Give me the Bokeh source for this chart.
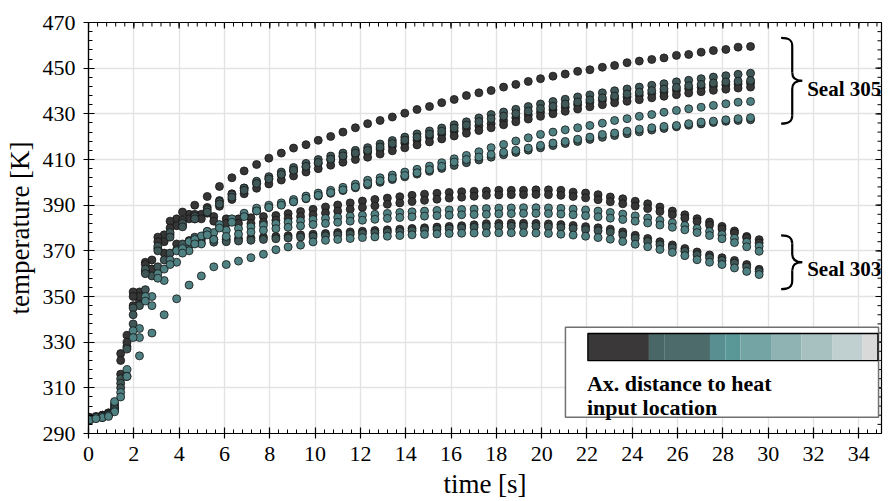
from bokeh.plotting import figure
from bokeh.models import FixedTicker, Range1d
from bokeh.core.properties import value
from bokeh.embed import file_html
from bokeh.resources import INLINE

# ---------------- data ----------------
# sampling instants of the two seals [s]
t305 = [0.33, 0.88, 1.42, 1.97, 2.51, 3.06, 3.60, 4.15, 4.69, 5.24, 5.78, 6.33, 6.87, 7.42,
        7.96, 8.51, 9.05, 9.60, 10.14, 10.69, 11.23, 11.78, 12.32, 12.87, 13.41, 13.96, 14.50,
        15.05, 15.59, 16.14, 16.68, 17.23, 17.77, 18.32, 18.86, 19.41, 19.95, 20.50, 21.04,
        21.59, 22.13, 22.68, 23.22, 23.77, 24.31, 24.86, 25.40, 25.95, 26.49, 27.04, 27.58,
        28.13, 28.67, 29.22]
t303 = [0.06, 0.61, 1.15, 1.70, 2.25, 2.80, 3.34, 3.89, 4.44, 4.98, 5.53, 6.08, 6.62, 7.17,
        7.72, 8.27, 8.81, 9.36, 9.91, 10.46, 11.00, 11.55, 12.09, 12.64, 13.19, 13.74, 14.28,
        14.83, 15.38, 15.92, 16.47, 17.02, 17.56, 18.11, 18.66, 19.20, 19.75, 20.30, 20.85,
        21.39, 21.94, 22.49, 23.03, 23.58, 24.13, 24.68, 25.22, 25.77, 26.32, 26.86, 27.41,
        27.96, 28.51, 29.05, 29.60]

# Seal 305 thermocouples [K]
s305_a = [297, 299, 325, 352, 365, 376, 383, 387, 390, 393.8, 398.2, 402, 405, 407.8, 410.6,
          412.8, 415, 416.5, 418.4, 420.1, 422, 423.9, 425.7, 427.1, 428.6, 430.3, 431.9, 433.2,
          434.9, 436.3, 438, 439.2, 440.2, 441.7, 442.9, 444.2, 445.4, 446.5, 447.4, 448.6,
          449.3, 450.4, 451.2, 452.4, 453.1, 453.8, 454.5, 455.6, 456, 457, 457.7, 458.2, 459.2,
          459.5]
s305_b = [297, 298.5, 314, 345, 362, 372, 378, 382, 385, 388, 391.5, 394.5, 397.5, 400.5,
          402.5, 404.5, 406.5, 408.3, 410, 411.5, 412.8, 414, 415.2, 416.8, 418.3, 419.8, 421.2,
          422.5, 423.8, 425.2, 426.5, 428.2, 429.7, 430.8, 432, 433.2, 434.3, 435.4, 436.4,
          437.4, 438.3, 439.2, 440.1, 440.9, 441.7, 442.5, 443.2, 444, 444.7, 445.4, 446.1,
          446.7, 447.3, 447.8]
s305_c = [297, 298, 312, 342, 360, 370, 376, 380.5, 384, 387, 390.5, 393.5, 396.5, 399.5,
          401.5, 403.5, 405.3, 407, 408.7, 410.2, 411.6, 412.8, 414, 415.5, 417, 418.5, 419.8,
          421.1, 422.4, 423.8, 425.1, 426.6, 427.9, 429, 430.1, 431.2, 432.3, 433.3, 434.3,
          435.2, 436.1, 437, 437.8, 438.7, 439.5, 440.2, 440.9, 441.6, 442.3, 442.9, 443.5, 444,
          444.3, 444.6]
s305_d = [297.5, 299, 322, 350, 364, 374, 380, 383.5, 386, 389, 392, 395, 397.5, 399.5, 401.5,
          403.3, 405, 406.7, 408.3, 409.8, 411.2, 412.2, 413.2, 414.5, 415.8, 417.2, 418.5,
          419.8, 421.1, 422.4, 423.6, 424.7, 425.7, 427, 428.3, 429.5, 430.7, 431.8, 432.9, 434,
          435, 435.9, 436.7, 437.4, 438.1, 438.9, 439.6, 440.3, 441, 441.6, 442.2, 442.7, 443.1,
          443.5]
s305_e = [297, 298.5, 316, 346, 361, 371, 377, 381, 384, 386.5, 389.5, 392.5, 395, 397.4,
          399.3, 401, 402.8, 404.5, 406, 407.5, 408.8, 410, 411, 412.4, 413.8, 415.1, 416.4,
          417.7, 419, 420.3, 421.5, 422.7, 423.9, 425.2, 426.5, 427.7, 428.9, 430, 431.1, 432.1,
          433.1, 434, 434.8, 435.5, 436.2, 437, 437.7, 438.4, 439.1, 439.7, 440.3, 440.8, 441.3,
          441.7]
s305_f = [297, 298, 308, 335, 350, 360, 366, 371, 375, 378.5, 381.5, 384, 386.5, 388.7, 390,
          391, 392.5, 394, 395.3, 396.5, 397.8, 399.2, 400.9, 402, 403.2, 404.5, 405.7, 407.1,
          408.6, 410.3, 411.8, 413.4, 415.2, 416.6, 418.1, 419.5, 421, 422, 423, 423.9, 424.9,
          425.9, 427.1, 427.9, 428.9, 429.7, 430.7, 431.5, 432.2, 432.9, 433.7, 434.4, 435.1,
          435.4]
s305_g = [296.5, 297.5, 306, 332, 348, 358, 364, 369, 373, 377, 380, 382.5, 385, 387.5, 389,
          390, 391.5, 393, 394.3, 395.5, 396.7, 398, 399.5, 400.7, 401.9, 403, 404.2, 405.5, 407,
          408.9, 410, 411.1, 412.2, 413.2, 414, 415, 416.2, 417.2, 417.9, 418.9, 419.8, 421,
          421.6, 422.4, 423.3, 423.9, 424.5, 424.9, 425.7, 426.4, 426.8, 427.4, 427.9, 428.3]
s305_h = [297, 298, 310, 338, 353, 363, 369, 373, 376, 378.5, 381, 383.5, 385.5, 387.5, 389,
          390.2, 391.5, 392.8, 394, 395.2, 396.4, 397.6, 398.8, 400, 401.2, 402.4, 403.6, 404.8,
          406.1, 407.4, 408.6, 409.8, 411, 412.1, 413.1, 414.1, 415.1, 416.1, 417, 417.9, 418.8,
          419.7, 420.5, 421.3, 422.1, 422.9, 423.6, 424.3, 425, 425.6, 426.2, 426.7, 427.1,
          427.4]

# Seal 303 thermocouples [K]
s303_a = [297, 298, 303, 333, 352, 366, 377, 384, 386, 386, 385, 384, 384, 384.5, 385, 385.5,
          386.3, 387.2, 388.2, 389.2, 390.1, 391, 391.8, 392.5, 393.1, 393.7, 394.3, 394.8,
          395.2, 395.6, 395.9, 396.1, 396.2, 396.5, 396.5, 396.5, 396.7, 396.7, 396.5, 395.7,
          395.3, 394.6, 393.6, 392.8, 391.7, 390.6, 389.2, 387.4, 385.8, 384.1, 382.6, 380.7,
          378.7, 376.3, 374.9]
s303_b = [296.5, 297.5, 301, 328, 348, 362, 374, 381, 384, 384, 383, 382, 382, 382, 382.5,
          383.4, 384.2, 385, 385.8, 386.6, 387.4, 388.2, 389, 389.7, 390.4, 391, 391.6, 392.1,
          392.6, 393.1, 393.5, 393.9, 394.3, 394.5, 394.6, 394.6, 394.7, 394.6, 394.3, 393.8,
          393.2, 392.4, 391.5, 390.6, 389.6, 388.5, 387.2, 385.8, 384.3, 382.8, 381.3, 379.6,
          377.8, 375.7, 373.5]
s303_c = [296, 297, 300, 318, 336, 350, 362, 370, 374, 376.5, 378, 379, 379.8, 380.5, 381.2,
          381.9, 382.5, 383.1, 383.7, 384.2, 384.7, 385.2, 385.6, 386, 386.4, 386.8, 387.1,
          387.4, 387.7, 387.9, 388.1, 388.3, 388.5, 388.7, 388.8, 388.9, 388.9, 388.8, 388.6,
          388.3, 387.9, 387.4, 386.8, 386.1, 385.3, 384.4, 383.4, 382.3, 381.1, 379.8, 378.5,
          377.1, 375.5, 373.8, 372]
s303_d = [296, 297, 299.5, 315, 332, 346, 357, 365, 370, 373, 375, 376.3, 377.3, 378.2, 379,
          379.7, 380.3, 380.9, 381.5, 382, 382.5, 383, 383.4, 383.8, 384.2, 384.6, 384.9, 385.2,
          385.4, 385.6, 385.8, 385.9, 386, 386.2, 386.3, 386.4, 386.4, 386.3, 386.1, 385.8,
          385.4, 384.9, 384.3, 383.7, 383, 382.2, 381.3, 380.3, 379.2, 378, 376.7, 375.3, 373.6,
          371.8, 369.8]
s303_e = [297, 298, 302, 330, 350, 362, 369, 373, 374.5, 375, 375, 375, 375.3, 375.6, 376,
          376.3, 376.6, 377, 377.3, 377.6, 378, 378.3, 378.6, 378.9, 379.2, 379.5, 379.8, 380.1,
          380.4, 380.7, 381, 381.4, 381.9, 382, 382.1, 382.1, 382, 381.8, 381.5, 381.1, 380.6,
          380.1, 379.5, 378.3, 376.8, 375.4, 374, 372.6, 371, 369.5, 368.2, 367, 365.8, 364,
          361.9]
s303_f = [296.5, 297.5, 301, 327, 346, 359, 366, 370.5, 372.5, 373.5, 373.8, 374, 374.3, 374.6,
          375, 375.3, 375.6, 376, 376.3, 376.6, 377, 377.3, 377.6, 377.9, 378.2, 378.5, 378.8,
          379.1, 379.4, 379.7, 380, 380.3, 380.6, 380.7, 380.8, 380.8, 380.7, 380.5, 380.2,
          379.8, 379.3, 378.8, 378.2, 377, 375.5, 374.1, 372.7, 371.3, 369.8, 368.3, 367, 365.8,
          364.6, 362.9, 360.9]
s303_g = [296, 297, 304, 315, 324, 334, 342, 349, 355, 359, 363, 364, 365.5, 367, 368.5, 370.5,
          371.7, 372.5, 373.9, 374.6, 375, 375.4, 375.8, 376.1, 376.4, 376.7, 377, 377.2, 377.4,
          377.6, 377.7, 377.8, 377.8, 377.9, 377.9, 377.9, 377.8, 377.6, 377.3, 376.9, 376.4,
          375.8, 375.1, 374.1, 372.9, 371.8, 370.6, 369.3, 367.9, 366.1, 365, 364, 362.5, 361,
          359.6]

# colour class of each sensor (index into point_colors)
series_305 = [s305_a, s305_b, s305_c, s305_d, s305_e, s305_f, s305_g, s305_h]
class_305 = [0, 1, 1, 0, 0, 2, 2, 1]
series_303 = [s303_a, s303_b, s303_c, s303_d, s303_e, s303_f, s303_g]
class_303 = [0, 0, 2, 2, 0, 1, 2]

# colour bar: palette and relative widths of its bins
bar_colors = ["#3a3838", "#4a6767", "#4d6b6b", "#5a8f91", "#5a9898", "#75a4a4", "#8fb3b3",
              "#a7c1c1", "#c0d0d0", "#d9d9d9"]
bar_widths = [4, 1, 3, 1, 1, 2, 2, 2, 2, 1]
point_colors = ["#363636", "#3f5757", "#4f8082"]

x_ticks = [0, 2, 4, 6, 8, 10, 12, 14, 16, 18, 20, 22, 24, 26, 28, 30, 32, 34]
y_ticks = [290, 310, 330, 350, 370, 390, 410, 430, 450, 470]

# ---------------- figure ----------------
FONT = "Liberation Serif"
XMIN, XMAX, YMIN, YMAX = 0, 35, 290, 470
p = figure(frame_width=793, frame_height=411, output_backend="svg", toolbar_location=None,
           x_range=Range1d(XMIN, XMAX), y_range=Range1d(YMIN, YMAX),
           min_border_left=88, min_border_right=10, min_border_top=22, min_border_bottom=62)
p.background_fill_color = "white"
p.border_fill_color = "white"
p.outline_line_color = "black"
p.outline_line_width = 1.2

x_minor = [i * 0.4 for i in range(0, 88)]
y_minor = [290 + i * 4 for i in range(0, 46)]
xt = FixedTicker(ticks=x_ticks, minor_ticks=x_minor)
yt = FixedTicker(ticks=y_ticks, minor_ticks=y_minor)

p.xaxis.ticker = xt
p.yaxis.ticker = yt
p.xgrid.ticker = xt
p.ygrid.ticker = yt
for g in (p.xgrid, p.ygrid):
    g.grid_line_color = "#e3e3e3"
    g.grid_line_width = 1.4

for ax in (p.xaxis, p.yaxis):
    ax.axis_line_color = "black"
    ax.axis_line_width = 1.2
    ax.major_tick_in = 6
    ax.major_tick_out = 5
    ax.minor_tick_in = 4
    ax.minor_tick_out = 0
    ax.major_tick_line_width = 1.2
    ax.minor_tick_line_width = 1
    ax.major_label_text_font = FONT
    ax.major_label_text_font_size = "22px"
    ax.major_label_text_color = "black"
    ax.axis_label_text_font = FONT
    ax.axis_label_text_font_size = "27px"
    ax.axis_label_text_font_style = "normal"
    ax.axis_label_text_color = "black"
p.xaxis.axis_label = "time [s]"
p.yaxis.axis_label = "temperature [K]"
p.xaxis.major_label_standoff = 8
p.yaxis.major_label_standoff = 8
p.xaxis.axis_label_standoff = 5
p.yaxis.axis_label_standoff = 5

# mirrored ticks on the top and right frame edges (6 px major, 4 px minor)
kx = (XMAX - XMIN) / 793.0
ky = (YMAX - YMIN) / 411.0
tick_kw = dict(line_color="black")
p.segment(x0=x_ticks, y0=[YMAX] * len(x_ticks), x1=x_ticks,
          y1=[YMAX - 6 * ky] * len(x_ticks), line_width=1.2, **tick_kw)
p.segment(x0=x_minor, y0=[YMAX] * len(x_minor), x1=x_minor,
          y1=[YMAX - 4 * ky] * len(x_minor), line_width=1, **tick_kw)
p.segment(x0=[XMAX] * len(y_ticks), y0=y_ticks, x1=[XMAX - 6 * kx] * len(y_ticks),
          y1=y_ticks, line_width=1.2, **tick_kw)
p.segment(x0=[XMAX] * len(y_minor), y0=y_minor, x1=[XMAX - 4 * kx] * len(y_minor),
          y1=y_minor, line_width=1, **tick_kw)

# ---------------- points ----------------
for cls in (0, 1, 2):
    for ys, c in zip(series_303, class_303):
        if c == cls:
            p.scatter(t303, ys, marker="circle", size=8, fill_color=point_colors[c],
                      line_color="#151515", line_width=0.8)
    for ys, c in zip(series_305, class_305):
        if c == cls:
            p.scatter(t305, ys, marker="circle", size=8, fill_color=point_colors[c],
                      line_color="#151515", line_width=0.8)

# ---------------- braces + labels ----------------
def brace(xl, xs, xtip, ytop, ybot, r):
    ym = (ytop + ybot) / 2
    kw = dict(line_color="black", line_width=2.2)
    p.bezier(x0=[xl, xs, xl, xs], y0=[ytop, ym + r, ybot, ym - r],
             x1=[xs, xtip, xs, xtip], y1=[ytop - r, ym, ybot + r, ym],
             cx0=[xl + 0.75 * (xs - xl), xs, xl + 0.75 * (xs - xl), xs],
             cy0=[ytop, ym + 0.25 * r, ybot, ym - 0.25 * r],
             cx1=[xs, xs + 0.35 * (xtip - xs), xs, xs + 0.35 * (xtip - xs)],
             cy1=[ytop - 0.3 * r, ym, ybot + 0.3 * r, ym], **kw)
    p.segment(x0=[xs, xs], y0=[ytop - r, ym - r], x1=[xs, xs], y1=[ym + r, ybot + r], **kw)

brace(30.57, 31.06, 31.50, 463.3, 425.7, 3.6)
brace(30.57, 31.06, 31.50, 376.8, 353.2, 3.6)
p.text(x=[31.72, 31.72], y=[441.0, 362.2], text=["Seal 305", "Seal 303"],
       text_font=value(FONT), text_font_style="bold", text_font_size="21px",
       text_baseline="alphabetic", text_align="left", text_color="black")

# ---------------- colour-bar legend ----------------
p.quad(left=[21.05], right=[34.87], top=[336.5], bottom=[297.1], fill_color="white",
       line_color="#707070", line_width=1.5)
x0, x1 = 22.04, 34.84
tot = sum(bar_widths)
lefts, rights = [], []
acc = 0
for w in bar_widths:
    lefts.append(x0 + (x1 - x0) * acc / tot)
    acc += w
    rights.append(x0 + (x1 - x0) * acc / tot)
p.quad(left=lefts, right=rights, top=333.8, bottom=321.9, fill_color=bar_colors,
       line_color=None)
p.quad(left=[x0], right=[x1], top=[333.8], bottom=[321.9], fill_color=None,
       line_color="black", line_width=1.3)
p.text(x=[22.0, 22.0], y=[311.9, 301.4], text=["Ax. distance to heat", "input location"],
       text_font=value(FONT), text_font_style="bold", text_font_size="22px",
       text_baseline="alphabetic", text_align="left", text_color="black")

open("out.html", "w").write(file_html(p, INLINE))
